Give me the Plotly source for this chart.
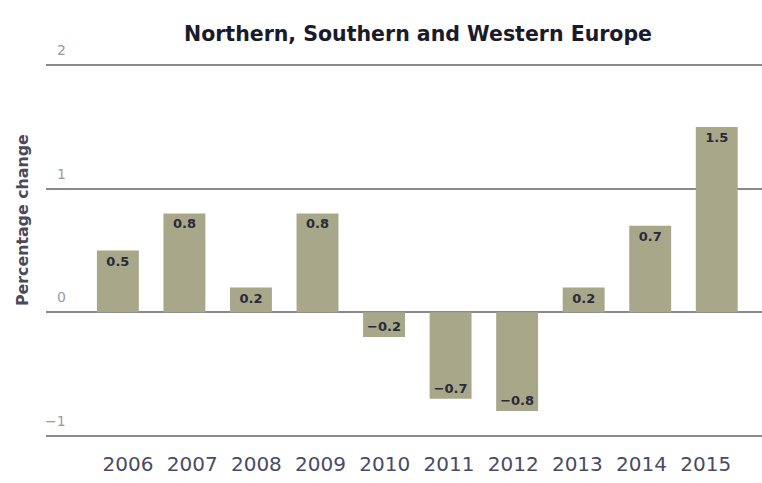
import plotly.graph_objects as go

years = ["2006", "2007", "2008", "2009", "2010", "2011", "2012", "2013", "2014", "2015"]
values = [0.5, 0.8, 0.2, 0.8, -0.2, -0.7, -0.8, 0.2, 0.7, 1.5]
labels = ["0.5", "0.8", "0.2", "0.8", "\u22120.2", "\u22120.7", "\u22120.8", "0.2", "0.7", "1.5"]
y_ticks = [2, 1, 0, -1]
y_tick_labels = ["2", "1", "0", "\u22121"]

W, H = 762, 483
ML, MR, MT, MB = 46, 0, 59, 41
plot_w = W - ML - MR
plot_h = H - MT - MB

bold_font = "DejaVu Sans, sans-serif"

fig = go.Figure()
fig.add_trace(go.Bar(
    x=years, y=values,
    marker=dict(color="#a8a78a", line=dict(width=0)),
    text=labels,
    textposition="inside",
    insidetextanchor="end",
    textangle=0,
    textfont=dict(family=bold_font, size=13, color="#2a2a3a", weight="bold"),
    cliponaxis=False,
    hoverinfo="skip",
))
# invisible trace carrying the year labels on the overlaid label axis
fig.add_trace(go.Scatter(
    x=list(range(len(years))), y=[0] * len(years), xaxis="x2",
    mode="markers", marker=dict(opacity=0), hoverinfo="skip", showlegend=False,
))

annotations = []
for v, t in zip(y_ticks, y_tick_labels):
    annotations.append(dict(
        x=(68 - ML) / plot_w, xref="paper", y=v, yref="y",
        text=t, showarrow=False, xanchor="right", yanchor="bottom", yshift=5,
        font=dict(family="DejaVu Sans, sans-serif", size=14, color="#9a9aa6"),
    ))
annotations.append(dict(
    x=(22 - ML) / plot_w, xref="paper",
    y=(H - MB - 220) / plot_h, yref="paper",
    xanchor="center", yanchor="middle",
    text="Percentage change", showarrow=False, textangle=-90,
    font=dict(family=bold_font, size=15.8, color="#4a4a5a", weight="bold"),
))

fig.update_layout(
    width=W, height=H,
    margin=dict(l=ML, r=MR, t=MT, b=MB),
    paper_bgcolor="white", plot_bgcolor="white",
    showlegend=False,
    bargap=0.37,
    title=dict(
        text="Northern, Southern and Western Europe",
        x=418 / W, xanchor="center", y=1 - 34 / H, yanchor="middle",
        font=dict(family=bold_font, size=20.5, color="#1a1a2a", weight="bold"),
    ),
    xaxis=dict(
        type="category", range=[-1.08, 9.68],
        showgrid=False, zeroline=False, showline=False, ticks="",
        showticklabels=False,
    ),
    xaxis2=dict(
        overlaying="x", side="bottom", range=[-1.277, 9.876],
        tickvals=list(range(len(years))), ticktext=years,
        showgrid=False, zeroline=False, showline=False, ticks="",
        tickfont=dict(family="DejaVu Sans, sans-serif", size=20, color="#4a4a66"),
        ticklabelstandoff=8,
    ),
    yaxis=dict(
        range=[-1.05, 2.05], tickvals=y_ticks, showticklabels=False,
        showgrid=True, gridcolor="#8a8a8a", gridwidth=2,
        zeroline=True, zerolinecolor="#8a8a8a", zerolinewidth=2,
        showline=False, ticks="",
    ),
    annotations=annotations,
)

fig.write_html("out.html", config={"displayModeBar": False},
               post_script="document.body.style.margin='0';")
